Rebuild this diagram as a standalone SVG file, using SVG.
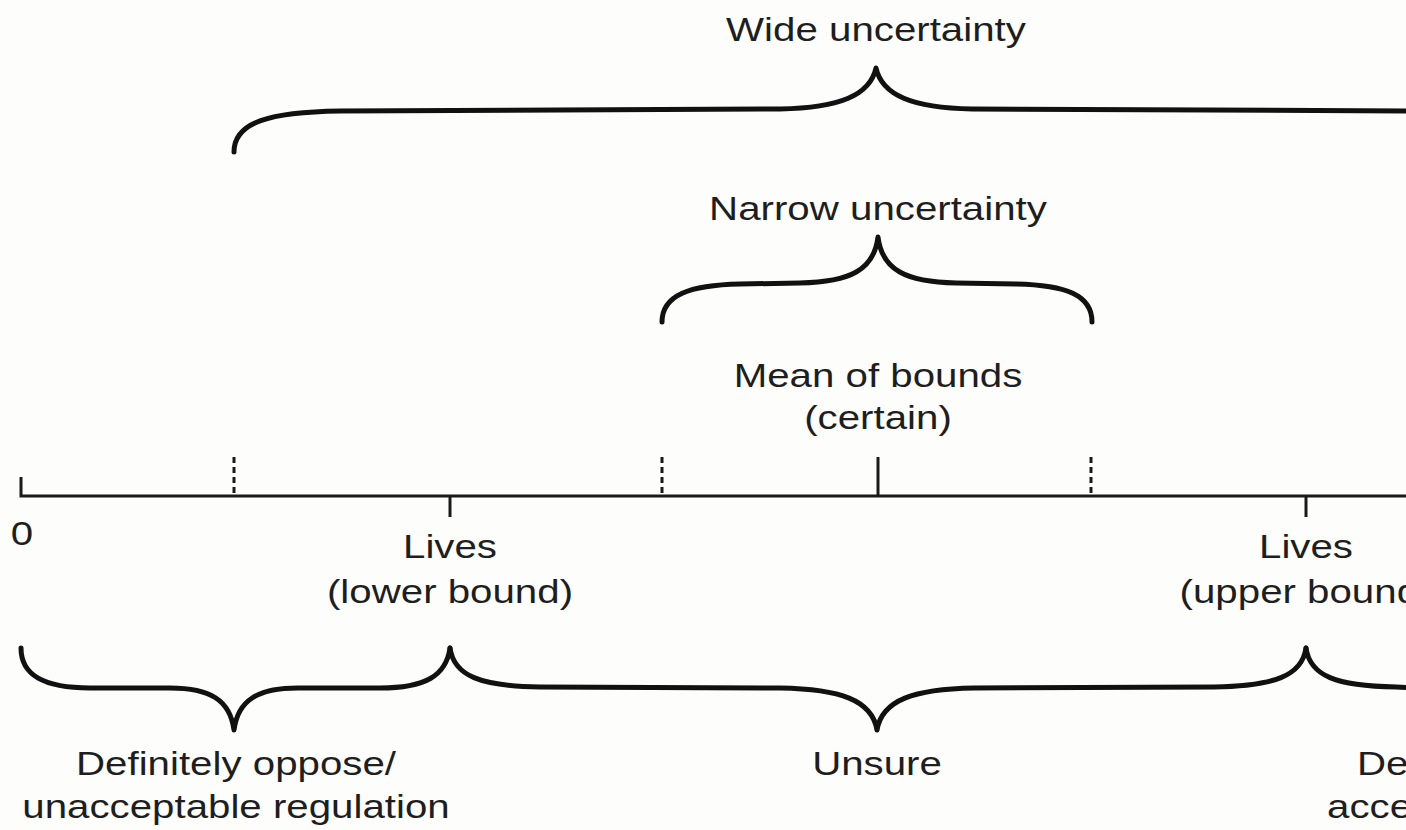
<svg xmlns="http://www.w3.org/2000/svg" width="1406" height="830" viewBox="0 0 1406 830">
<style>
.t{font-family:"Liberation Sans",Arial,sans-serif;font-size:33px;fill:#1e1e1e;text-anchor:middle}
.s{text-anchor:start}
.ax{stroke:#1a1a1a;stroke-width:3;fill:none}
.dash{stroke:#1a1a1a;stroke-width:3;fill:none;stroke-dasharray:6 4}
.br{stroke:#111;stroke-width:5;fill:none;stroke-linecap:round;stroke-linejoin:round}
</style>
<rect width="1406" height="830" fill="#fdfdfc"/>
<g id="connectors">
<path class="ax" d="M21 477 L21 496 L1406 496"/>
<line class="dash" x1="234" y1="457" x2="234" y2="496"/>
<line class="dash" x1="662" y1="457" x2="662" y2="496"/>
<line class="dash" x1="1091" y1="457" x2="1091" y2="496"/>
<line class="ax" x1="878" y1="457" x2="878" y2="496"/>
<line class="ax" x1="450" y1="496" x2="450" y2="517"/>
<line class="ax" x1="1306" y1="496" x2="1306" y2="517"/>
</g>
<g id="wide">
<path class="br" d="M234 152 C234 122 270 112 340 111 L780 109 C840 108 870 95 876 68 C882 95 912 108 972 109 L1412 111 C1482 112 1518 122 1518 152"/>
<text class="t" transform="translate(876,41) scale(1.22,1)">Wide uncertainty</text>
</g>
<g id="narrow">
<path class="br" d="M662 322 C662 295 690 285 740 284 L800 283 C850 282 874 270 878 237 C882 270 906 282 956 283 L1016 284 C1066 285 1092 295 1092 322"/>
<text class="t" transform="translate(878,220) scale(1.22,1)">Narrow uncertainty</text>
</g>
<g id="mean">
<text class="t" transform="translate(878,387) scale(1.22,1)">Mean of bounds</text>
<text class="t" transform="translate(878,429) scale(1.22,1)">(certain)</text>
</g>
<g id="zero"><text class="t" transform="translate(22,545) scale(1.22,1)">0</text></g>
<g id="lower">
<text class="t" transform="translate(450,558) scale(1.22,1)">Lives</text>
<text class="t" transform="translate(450,603) scale(1.22,1)">(lower bound)</text>
</g>
<g id="upper">
<text class="t" transform="translate(1306,558) scale(1.22,1)">Lives</text>
<text class="t" transform="translate(1306,603) scale(1.22,1)">(upper bound)</text>
</g>
<g id="oppose">
<path class="br" d="M21 648 C21 676 45 688 90 688 L170 688 C210 688 230 700 234 730 C238 700 258 688 298 688 L380 688 C425 688 446 676 450 648"/>
<text class="t" transform="translate(236,775) scale(1.22,1)">Definitely oppose/</text>
<text class="t" transform="translate(236,818) scale(1.22,1)">unacceptable regulation</text>
</g>
<g id="unsure">
<path class="br" d="M450 648 C454 676 480 686 540 687 L780 688 C840 689 872 700 877 730 C882 700 914 689 974 688 L1214 687 C1274 686 1302 676 1306 648"/>
<text class="t" transform="translate(877,775) scale(1.22,1)">Unsure</text>
</g>
<g id="support">
<path class="br" d="M1306 648 C1310 676 1336 686 1396 687 L1420 688"/>
<text class="t s" transform="translate(1357,775) scale(1.22,1)">De</text>
<text class="t s" transform="translate(1327,818) scale(1.22,1)">acce</text>
</g>
</svg>
